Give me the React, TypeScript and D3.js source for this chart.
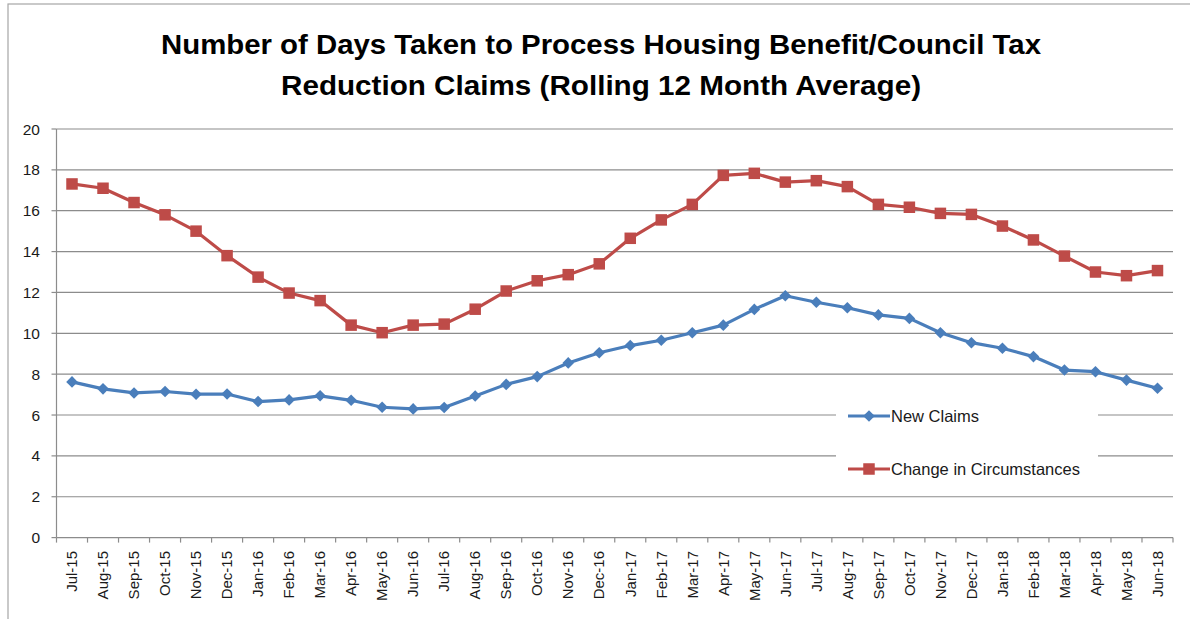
import React from "react";
import * as d3 from "d3";

const months = [
  "Jul-15", "Aug-15", "Sep-15", "Oct-15", "Nov-15", "Dec-15",
  "Jan-16", "Feb-16", "Mar-16", "Apr-16", "May-16", "Jun-16",
  "Jul-16", "Aug-16", "Sep-16", "Oct-16", "Nov-16", "Dec-16",
  "Jan-17", "Feb-17", "Mar-17", "Apr-17", "May-17", "Jun-17",
  "Jul-17", "Aug-17", "Sep-17", "Oct-17", "Nov-17", "Dec-17",
  "Jan-18", "Feb-18", "Mar-18", "Apr-18", "May-18", "Jun-18",
];

const newClaims = [
  7.62, 7.28, 7.08, 7.15, 7.02, 7.03, 6.66, 6.74, 6.94, 6.72, 6.38, 6.3,
  6.37, 6.93, 7.5, 7.88, 8.55, 9.05, 9.4, 9.66, 10.03, 10.4, 11.17, 11.84,
  11.52, 11.25, 10.9, 10.73, 10.03, 9.54, 9.27, 8.86, 8.2, 8.12, 7.71, 7.31,
];

const changeCirc = [
  17.31, 17.1, 16.4, 15.8, 15.0, 13.8, 12.75, 11.97, 11.6, 10.4, 10.03, 10.4,
  10.45, 11.18, 12.07, 12.57, 12.87, 13.4, 14.65, 15.55, 16.31, 17.73, 17.83, 17.4,
  17.47, 17.18, 16.31, 16.17, 15.87, 15.82, 15.25, 14.57, 13.78, 13.0, 12.82, 13.07,
];

const yTicks = [0, 2, 4, 6, 8, 10, 12, 14, 16, 18, 20];

const titleLines = [
  "Number of Days Taken to Process Housing Benefit/Council Tax",
  "Reduction Claims (Rolling 12 Month Average)",
];

const seriesNames = ["New Claims", "Change in Circumstances"];

const BLUE = "#4A7EBB";
const RED = "#BE4B48";
const GRID = "#8c8c8c";
const FONT = "'Liberation Sans', Arial, sans-serif";

export default function App() {
  const W = 1190;
  const H = 619;
  const left = 56.5;
  const right = 1173;
  const top = 129;
  const bottom = 537.6;

  const x = d3.scaleBand<string>().domain(months).range([left, right]).padding(0);
  const y = d3.scaleLinear().domain([0, 20]).range([bottom, top]);
  const cx = (m: string) => (x(m) as number) + x.bandwidth() / 2;

  const line = d3
    .line<number>()
    .x((_, i) => cx(months[i]))
    .y((d) => y(d));

  const sq = 11.5;
  const dia = 5.8;
  const diamond = (px: number, py: number, r: number) =>
    `M${px},${py - r}L${px + r},${py}L${px},${py + r}L${px - r},${py}Z`;

  const boundaries = d3.range(months.length + 1).map((i) => left + i * x.bandwidth());

  const legend = { x0: 836, x1: 1098, y0: 396, y1: 488 };

  return (
    <svg
      width={W}
      height={H}
      style={{ position: "absolute", left: 0, top: 0, background: "#fff" }}
    >
      <rect x={0} y={0} width={W} height={H} fill="#fff" />
      <rect x={8} y={4} width={W + 20} height={H + 20} fill="none" stroke="#a6a6a6" strokeWidth={1.2} />

      {/* title */}
      {titleLines.map((t, i) => (
        <text
          key={t}
          x={601}
          y={i === 0 ? 54 : 95}
          textAnchor="middle"
          fontFamily={FONT}
          fontWeight="bold"
          fontSize={27}
          textLength={i === 0 ? 880 : 640}
          lengthAdjust="spacingAndGlyphs"
          fill="#000"
        >
          {t}
        </text>
      ))}

      {/* gridlines */}
      {yTicks
        .filter((t) => t > 0)
        .map((t) => (
          <line key={t} x1={left} x2={right} y1={y(t)} y2={y(t)} stroke={GRID} strokeWidth={1.2} />
        ))}

      {/* y axis */}
      <line x1={left} x2={left} y1={top} y2={bottom} stroke={GRID} strokeWidth={1.2} />
      {yTicks.map((t) => (
        <g key={t}>
          <line x1={left - 5} x2={left} y1={y(t)} y2={y(t)} stroke={GRID} strokeWidth={1.2} />
          <text
            x={40}
            y={y(t)}
            dy="0.36em"
            textAnchor="end"
            fontFamily={FONT}
            fontSize={15.5}
            fill="#1a1a1a"
          >
            {t}
          </text>
        </g>
      ))}

      {/* x axis */}
      <line x1={left} x2={right} y1={bottom} y2={bottom} stroke={GRID} strokeWidth={1.2} />
      {boundaries.map((bx, i) => (
        <line key={i} x1={bx} x2={bx} y1={bottom} y2={bottom + 5} stroke={GRID} strokeWidth={1.2} />
      ))}
      {months.map((m) => (
        <text
          key={m}
          transform={`translate(${cx(m)},${551}) rotate(-90)`}
          dy="0.35em"
          textAnchor="end"
          fontFamily={FONT}
          fontSize={15}
          fill="#1a1a1a"
        >
          {m}
        </text>
      ))}

      {/* legend background */}
      <rect
        x={legend.x0}
        y={legend.y0}
        width={legend.x1 - legend.x0}
        height={legend.y1 - legend.y0}
        fill="#fff"
      />

      {/* series: new claims */}
      <path d={line(newClaims) || ""} fill="none" stroke={BLUE} strokeWidth={3.2} strokeLinejoin="round" />
      {newClaims.map((v, i) => (
        <path key={i} d={diamond(cx(months[i]), y(v), dia)} fill={BLUE} />
      ))}

      {/* series: change in circumstances */}
      <path d={line(changeCirc) || ""} fill="none" stroke={RED} strokeWidth={3.2} strokeLinejoin="round" />
      {changeCirc.map((v, i) => (
        <rect
          key={i}
          x={cx(months[i]) - sq / 2}
          y={y(v) - sq / 2}
          width={sq}
          height={sq}
          fill={RED}
        />
      ))}

      {/* legend */}
      {seriesNames.map((name, i) => {
        const ly = i === 0 ? 416 : 469;
        const col = i === 0 ? BLUE : RED;
        return (
          <g key={name}>
            <line x1={848} x2={890} y1={ly} y2={ly} stroke={col} strokeWidth={3.2} />
            {i === 0 ? (
              <path d={diamond(869, ly, dia)} fill={col} />
            ) : (
              <rect x={869 - sq / 2} y={ly - sq / 2} width={sq} height={sq} fill={col} />
            )}
            <text
              x={891}
              y={ly}
              dy="0.36em"
              fontFamily={FONT}
              fontSize={16.5}
              fill="#1a1a1a"
            >
              {name}
            </text>
          </g>
        );
      })}
    </svg>
  );
}
